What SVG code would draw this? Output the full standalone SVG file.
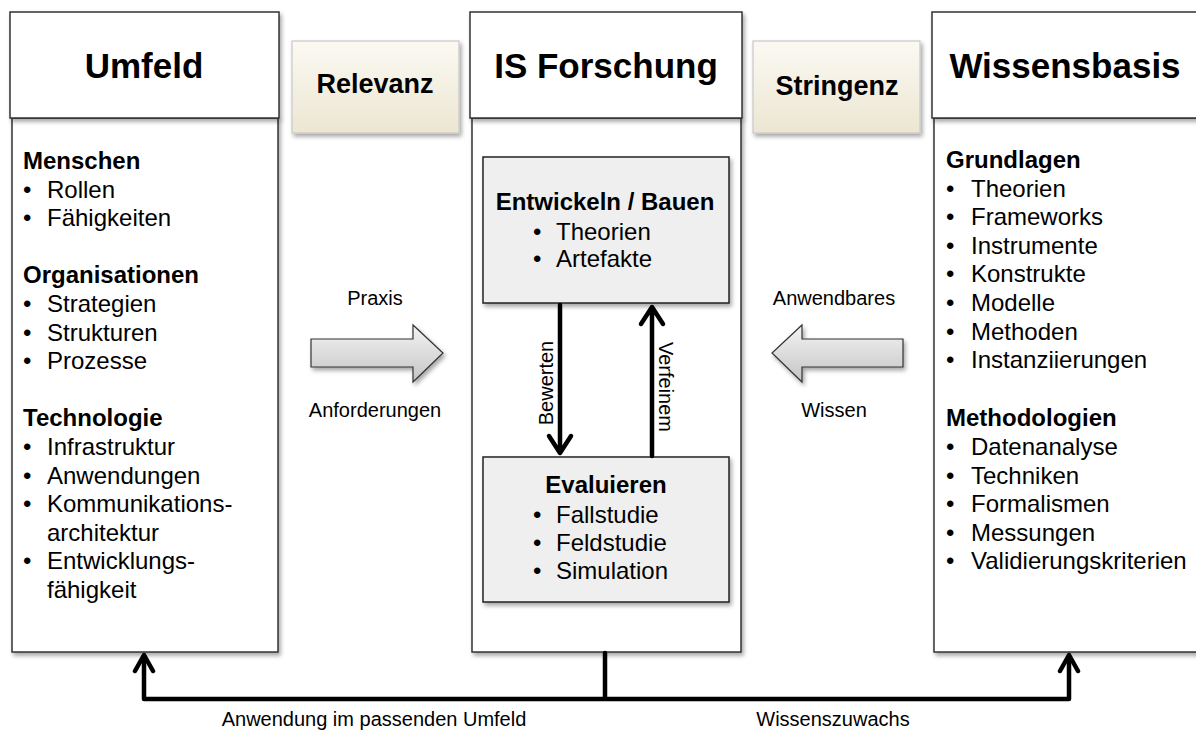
<svg xmlns="http://www.w3.org/2000/svg" width="1196" height="731" viewBox="0 0 1196 731">
<defs>
<filter id="sh" x="-10%" y="-10%" width="130%" height="130%">
<feDropShadow dx="2" dy="3" stdDeviation="2" flood-color="#000" flood-opacity="0.35"/>
</filter>
<linearGradient id="cream" x1="0" y1="0" x2="0" y2="1">
<stop offset="0" stop-color="#fbf9f3"/>
<stop offset="1" stop-color="#ece6d2"/>
</linearGradient>
<linearGradient id="grey" x1="0" y1="0" x2="0" y2="1">
<stop offset="0" stop-color="#f4f4f4"/>
<stop offset="1" stop-color="#c4c4c4"/>
</linearGradient>
<style>
.box{fill:#fff;stroke:#333;stroke-width:1.5;filter:url(#sh)}
.inner{fill:#efefef;stroke:#222;stroke-width:1.5;filter:url(#sh)}
.tag{fill:url(#cream);stroke:#c9c9c9;stroke-width:1.2;filter:url(#sh)}
.blk{fill:url(#grey);stroke:#333;stroke-width:1.2;filter:url(#sh)}
.h{font-family:"Liberation Sans",Arial,sans-serif;font-weight:bold;font-size:35px;fill:#000;text-anchor:middle}
.t{font-family:"Liberation Sans",Arial,sans-serif;font-weight:bold;font-size:27px;fill:#000;text-anchor:middle}
.b{font-family:"Liberation Sans",Arial,sans-serif;font-weight:bold;font-size:24px;fill:#000}
.r{font-family:"Liberation Sans",Arial,sans-serif;font-size:24px;fill:#000}
.s{font-family:"Liberation Sans",Arial,sans-serif;font-size:20px;fill:#000;text-anchor:middle}
.ln{fill:none;stroke:#000;stroke-width:4.5;stroke-linecap:round;stroke-linejoin:round}
</style>
</defs>
<rect width="1196" height="731" fill="#fff"/>

<g id="umfeld">
<rect class="box" x="12" y="118" width="266" height="534"/>
<rect class="box" x="10" y="12" width="269" height="106"/>
<text class="h" x="144" y="78">Umfeld</text>
<text class="b" x="23" y="169">Menschen</text>
<text class="r" x="23" y="197.6">•</text><text class="r" x="47" y="197.6">Rollen</text>
<text class="r" x="23" y="226.2">•</text><text class="r" x="47" y="226.2">Fähigkeiten</text>
<text class="b" x="23" y="283.4">Organisationen</text>
<text class="r" x="23" y="312">•</text><text class="r" x="47" y="312">Strategien</text>
<text class="r" x="23" y="340.6">•</text><text class="r" x="47" y="340.6">Strukturen</text>
<text class="r" x="23" y="369.2">•</text><text class="r" x="47" y="369.2">Prozesse</text>
<text class="b" x="23" y="426.4">Technologie</text>
<text class="r" x="23" y="455">•</text><text class="r" x="47" y="455">Infrastruktur</text>
<text class="r" x="23" y="483.6">•</text><text class="r" x="47" y="483.6">Anwendungen</text>
<text class="r" x="23" y="512.2">•</text><text class="r" x="47" y="512.2">Kommunikations-</text>
<text class="r" x="47" y="540.8">architektur</text>
<text class="r" x="23" y="569.4">•</text><text class="r" x="47" y="569.4">Entwicklungs-</text>
<text class="r" x="47" y="598">fähigkeit</text>
</g>

<g id="relevanz">
<rect class="tag" x="292" y="41" width="167" height="92"/>
<text class="t" x="375" y="93">Relevanz</text>
</g>

<g id="is-forschung">
<rect class="box" x="472" y="118" width="269" height="534"/>
<rect class="box" x="470" y="12" width="272" height="106"/>
<text class="h" x="606" y="78">IS Forschung</text>
</g>

<g id="entwickeln">
<rect class="inner" x="483" y="157" width="246" height="146"/>
<text class="b" x="605" y="210" text-anchor="middle">Entwickeln / Bauen</text>
<text class="r" x="533" y="240">•</text><text class="r" x="556" y="240">Theorien</text>
<text class="r" x="533" y="267">•</text><text class="r" x="556" y="267">Artefakte</text>
</g>

<g id="evaluieren">
<rect class="inner" x="483" y="457" width="246" height="145"/>
<text class="b" x="606" y="493" text-anchor="middle">Evaluieren</text>
<text class="r" x="533" y="523">•</text><text class="r" x="556" y="523">Fallstudie</text>
<text class="r" x="533" y="551">•</text><text class="r" x="556" y="551">Feldstudie</text>
<text class="r" x="533" y="579">•</text><text class="r" x="556" y="579">Simulation</text>
</g>

<g id="stringenz">
<rect class="tag" x="753" y="41" width="167" height="92"/>
<text class="t" x="837" y="95">Stringenz</text>
</g>

<g id="wissensbasis">
<rect class="box" x="934" y="118" width="280" height="534"/>
<rect class="box" x="932" y="12" width="282" height="106"/>
<text class="h" x="1065" y="78">Wissensbasis</text>
<text class="b" x="946" y="168">Grundlagen</text>
<text class="r" x="946" y="196.6">•</text><text class="r" x="971" y="196.6">Theorien</text>
<text class="r" x="946" y="225.2">•</text><text class="r" x="971" y="225.2">Frameworks</text>
<text class="r" x="946" y="253.8">•</text><text class="r" x="971" y="253.8">Instrumente</text>
<text class="r" x="946" y="282.4">•</text><text class="r" x="971" y="282.4">Konstrukte</text>
<text class="r" x="946" y="311">•</text><text class="r" x="971" y="311">Modelle</text>
<text class="r" x="946" y="339.6">•</text><text class="r" x="971" y="339.6">Methoden</text>
<text class="r" x="946" y="368.2">•</text><text class="r" x="971" y="368.2">Instanziierungen</text>
<text class="b" x="946" y="426.4">Methodologien</text>
<text class="r" x="946" y="455">•</text><text class="r" x="971" y="455">Datenanalyse</text>
<text class="r" x="946" y="483.6">•</text><text class="r" x="971" y="483.6">Techniken</text>
<text class="r" x="946" y="512.2">•</text><text class="r" x="971" y="512.2">Formalismen</text>
<text class="r" x="946" y="540.8">•</text><text class="r" x="971" y="540.8">Messungen</text>
<text class="r" x="946" y="569.4">•</text><text class="r" x="971" y="569.4">Validierungskriterien</text>
</g>

<g id="connectors">
<polygon class="blk" points="311,339 413,339 413,325 443,353 413,382 413,367 311,367"/>
<text class="s" x="375" y="305">Praxis</text>
<text class="s" x="375" y="417">Anforderungen</text>
<polygon class="blk" points="903,339 802,339 802,325 772,353 802,382 802,367 903,367"/>
<text class="s" x="834" y="305">Anwendbares</text>
<text class="s" x="834" y="417">Wissen</text>

<path class="ln" d="M560,305 V452 M549,436 L560,453 L571,436"/>
<path class="ln" d="M652,456 V308 M641,324 L652,307 L663,324"/>
<text class="s" transform="translate(553,383) rotate(-90)">Bewerten</text>
<text class="s" transform="translate(659,387) rotate(90)">Verfeinem</text>

<path class="ln" d="M605,653 V699 M144,656 V699 H1069 V656"/>
<path class="ln" d="M135,671 L144,655 L153,671 M1060,671 L1069,655 L1078,671"/>
<text class="s" x="374" y="726">Anwendung im passenden Umfeld</text>
<text class="s" x="833" y="726">Wissenszuwachs</text>
</g>
</svg>
